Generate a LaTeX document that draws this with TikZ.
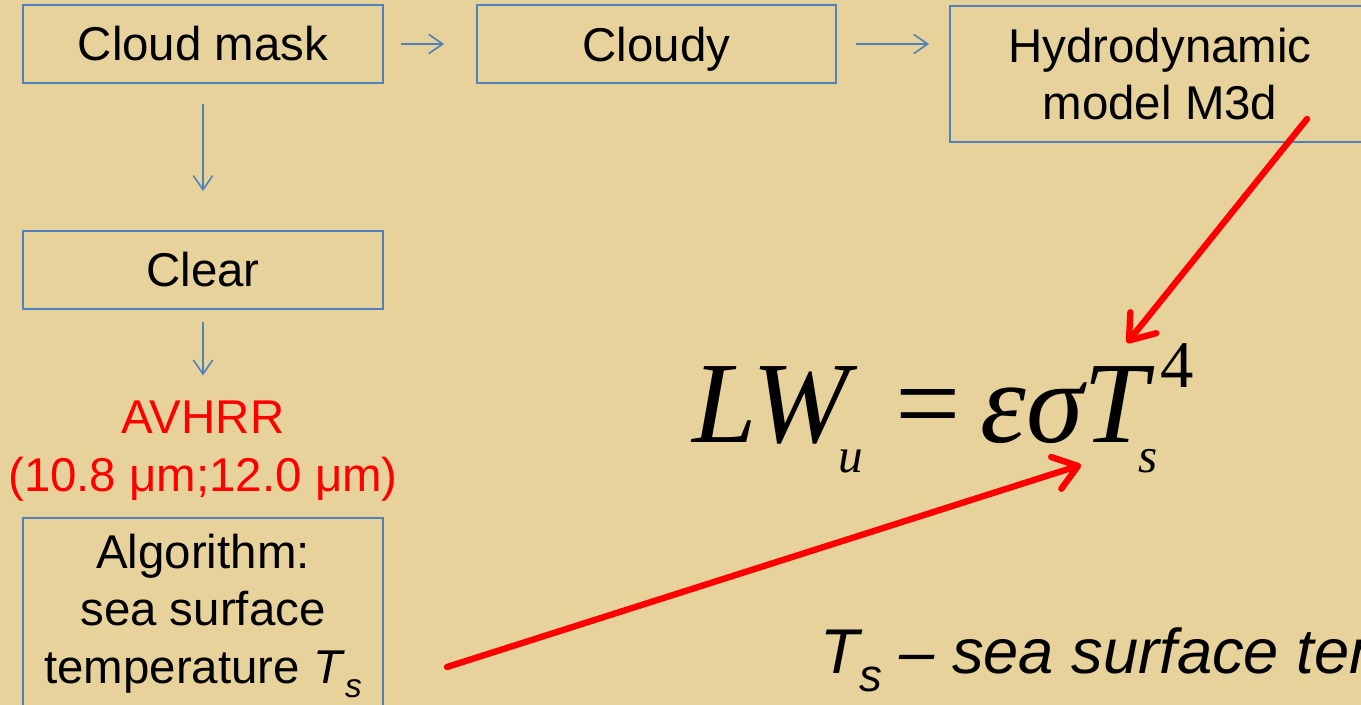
\documentclass[tikz,border=0pt]{standalone}
\usepackage{fontspec}
\setmainfont{Liberation Sans}
\newfontfamily\eqfont{Liberation Serif}
\usetikzlibrary{positioning, arrows.meta}
\definecolor{paperBg}{HTML}{E8D29C}
\definecolor{boxLine}{HTML}{4F81BD}
\definecolor{hotRed}{HTML}{FF0000}
\newcommand{\tsub}[2]{\raisebox{-0.3em}{\fontsize{#1}{#1}\selectfont\itshape #2}}
\tikzset{
  flowbox/.style={draw=boxLine, line width=1.1pt, minimum width=7.2cm, minimum height=1.56cm,
    inner sep=2pt, align=center, font=\fontsize{27}{32.5}\selectfont},
  flowarrow/.style={-{Straight Barb[length=8pt, width=11pt]}, boxLine, line width=0.9pt},
  redarrow/.style={-{Straight Barb[length=13pt, width=19pt, round]}, hotRed, line width=3.6pt, line cap=round},
  eqpart/.style={anchor=base west, inner sep=0pt, font=\eqfont\itshape\fontsize{66}{70}\selectfont},
  eqsmall/.style={eqpart, font=\eqfont\itshape\fontsize{28}{30}\selectfont},
}

\begin{document}
\begin{tikzpicture}[x=0.02cm, y=-0.02cm]
  \useasboundingbox (0,0) rectangle (1361,705);
  \clip (0,0) rectangle (1361,705);
  \fill[paperBg] (0,0) rectangle (1361,705);

  \node[flowbox] (cmask) at (203,44) {Cloud mask};
  \node[flowbox, minimum width=7.18cm, text depth=0pt] (cloudy) at (656.5,44) {Cloudy};
  \node[flowbox, minimum width=8.4cm, minimum height=2.72cm] (hydro) at (1160,74) {Hydrodynamic\\model M3d};
  \node[flowbox] (clear) at (203,270) {Clear};
  \node[align=center, inner sep=0pt, text=hotRed, font=\fontsize{27}{33}\selectfont] (avhrr) at (203,451)
    {AVHRR\\(10.8 μm;12.0 μm)};
  \node[flowbox, minimum height=3.92cm] (algo) at (203,616)
    {Algorithm:\\sea surface\\temperature \textit{T}\tsub{19}{s}};

  \draw[flowarrow, shorten <=0.34cm, shorten >=0.64cm] (cmask) -- (cloudy);
  \draw[flowarrow, shorten <=0.38cm, shorten >=0.4cm] (cloudy.east) -- (cloudy.east -| hydro.west);
  \draw[flowarrow, shorten <=0.4cm, shorten >=0.78cm] (cmask) -- (clear);
  \draw[flowarrow, shorten <=0.24cm, shorten >=0.5cm] (clear) -- (avhrr);

  \node[eqpart] (eqlw) at (692,442) {LW};
  \node[eqsmall] (equ) at (838,472) {u};
  \node[eqpart, font=\eqfont\fontsize{66}{70}\selectfont] (eqeq) at (895,442) {=};
  \node[eqpart] (eqrhs) at (980,442) {εσT};
  \node[eqsmall] (eqs) at (1138,472) {s};
  \node[eqpart, font=\eqfont\fontsize{38}{40}\selectfont] (eqpow) at (1160,388) {4};

  \coordinate (hydrofoot) at (1307,119);
  \coordinate (eqtop) at (1127,343);
  \coordinate (algotail) at (447,667);
  \coordinate (eqfoot) at (1081,465);
  \draw[redarrow] (hydrofoot) -- (eqtop);
  \draw[redarrow] (algotail) -- (eqfoot);

  \node[anchor=base west, inner sep=0pt, font=\fontsize{36}{40}\selectfont\itshape] (tsnote) at (820,673)
    {T\tsub{26}{s} – sea surface temperature};
\end{tikzpicture}
\end{document}
